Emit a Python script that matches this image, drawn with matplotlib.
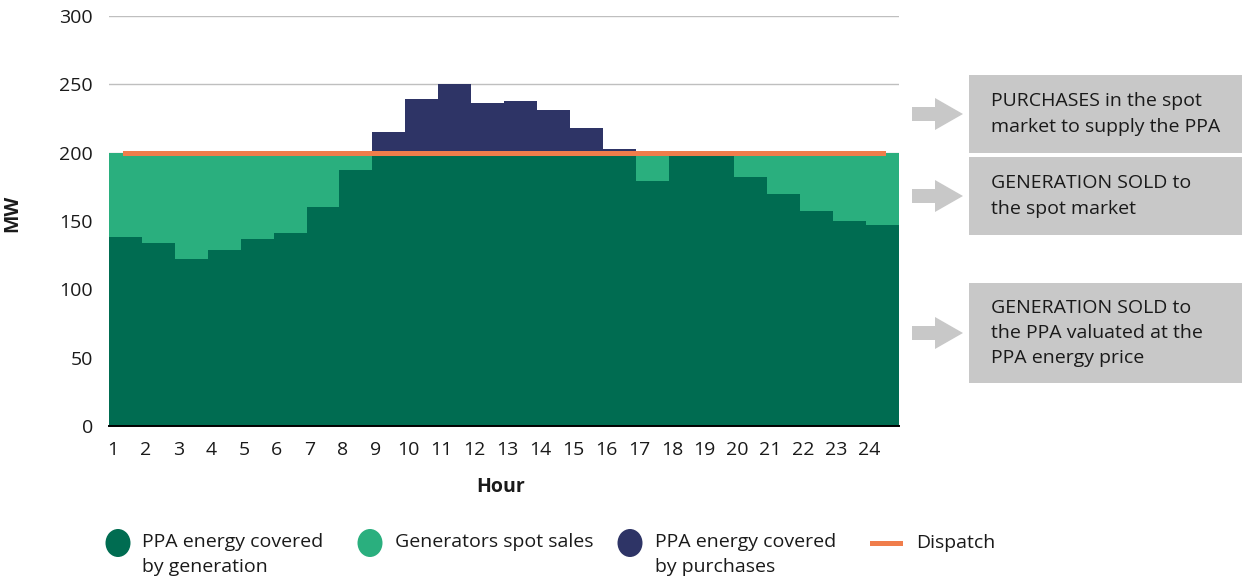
import matplotlib
matplotlib.use("Agg")
import matplotlib.pyplot as plt
from matplotlib.patches import Rectangle, Ellipse, Polygon
import numpy as np

# ---- data ----
hours = list(range(1, 25))
ppa_generation = [138, 134, 122, 129, 137, 141, 160, 187, 200, 200, 200, 200,
                  200, 200, 200, 200, 179, 200, 200, 182, 170, 157, 150, 147]
spot_sales = [62, 66, 78, 71, 63, 59, 40, 13, 0, 0, 0, 0,
              0, 0, 0, 0, 21, 0, 0, 18, 30, 43, 50, 53]
ppa_purchases = [0, 0, 0, 0, 0, 0, 0, 0, 15, 39, 50, 36,
                 38, 31, 18, 3, 0, 0, 0, 0, 0, 0, 0, 0]
dispatch = [200] * 24
y_ticks = [0, 50, 100, 150, 200, 250, 300]
legend_labels = ["PPA energy covered\nby generation", "Generators spot sales",
                 "PPA energy covered\nby purchases", "Dispatch"]
box_texts = ["PURCHASES in the spot\nmarket to supply the PPA",
             "GENERATION SOLD to\nthe spot market",
             "GENERATION SOLD to\nthe PPA valuated at the\nPPA energy price"]

C_DARK = "#006C51"
C_LIGHT = "#2AAF7E"
C_NAVY = "#2E3466"
C_ORANGE = "#F07D4B"
C_GRAY = "#C8C8C8"
C_TEXT = "#1A1A1A"

FONT = "Open Sans"
plt.rcParams["font.family"] = [FONT, "DejaVu Sans"]
FS = 14

W, H = 1244, 580
fig = plt.figure(figsize=(W / 100, H / 100), dpi=100)

x0, x1 = 109, 899
ytop, ybot = 16, 426
ax = fig.add_axes([x0 / W, 1 - ybot / H, (x1 - x0) / W, (ybot - ytop) / H])

gen = np.array(ppa_generation)
spot = np.array(spot_sales)
pur = np.array(ppa_purchases)
ax.bar(hours, gen, width=1.0, color=C_DARK, zorder=2, linewidth=0)
ax.bar(hours, spot, bottom=gen, width=1.0, color=C_LIGHT, zorder=2, linewidth=0)
ax.bar(hours, pur, bottom=gen + spot, width=1.0, color=C_NAVY, zorder=2, linewidth=0)
ax.plot(hours, dispatch, color=C_ORANGE, lw=3.6, solid_capstyle="projecting", zorder=3)

ax.set_xlim(0.5, 24.5)
ax.set_ylim(0, 300)
ax.set_yticks(y_ticks)
ax.set_yticklabels([str(v) for v in y_ticks], fontsize=FS, color=C_TEXT)
ax.set_xticks([h - 0.4 for h in hours])
ax.set_xticklabels([str(h) for h in hours], fontsize=FS, color=C_TEXT)
ax.tick_params(axis="both", length=0)
ax.tick_params(axis="y", pad=11.5)
ax.tick_params(axis="x", pad=11)
ax.grid(axis="y", color="#BFBFBF", lw=1, zorder=0)
ax.set_axisbelow(True)
for s in ["top", "right", "left"]:
    ax.spines[s].set_visible(False)
ax.spines["bottom"].set_color("black")
ax.spines["bottom"].set_linewidth(1.4)
ax.spines["bottom"].set_zorder(4)

# overlay in pixel coordinates
ov = fig.add_axes([0, 0, 1, 1], zorder=5)
ov.set_xlim(0, W)
ov.set_ylim(H, 0)
ov.axis("off")
ov.patch.set_alpha(0)

ov.text(12, 213, "MW", rotation=90, ha="center", va="center", fontsize=FS,
        fontweight="bold", color=C_TEXT)
ov.text(501, 487, "Hour", ha="center", va="center", fontsize=FS,
        fontweight="bold", color=C_TEXT)

# boxes and arrows
boxes = [(75, 153), (157, 235), (283, 383)]
arrow_y = [114, 196, 333]
for (yt, yb), ay, txt in zip(boxes, arrow_y, box_texts):
    ov.add_patch(Rectangle((969, yt), 1242 - 969, yb - yt, facecolor=C_GRAY,
                           edgecolor="none"))
    ov.add_patch(Polygon([(912, ay - 7), (935, ay - 7), (935, ay - 16), (963, ay),
                          (935, ay + 16), (935, ay + 7), (912, ay + 7)],
                         closed=True, facecolor=C_GRAY, edgecolor="none"))
    ov.text(991, (yt + yb) / 2, txt, ha="left", va="center", fontsize=FS,
            color=C_TEXT, linespacing=1.52)

# legend
leg_colors = [C_DARK, C_LIGHT, C_NAVY]
leg_cx = [118, 370, 630]
leg_tx = [142, 395, 655]
for c, cx, tx, lab in zip(leg_colors, leg_cx, leg_tx, legend_labels[:3]):
    ov.add_patch(Ellipse((cx, 543), 25, 28, facecolor=c, edgecolor="none"))
    ov.text(tx, 533, lab, ha="left", va="top", fontsize=FS, color=C_TEXT,
            linespacing=1.5)
ov.plot([872, 900], [543, 543], color=C_ORANGE, lw=3.6)
ov.text(916, 543, legend_labels[3], ha="left", va="center", fontsize=FS,
        color=C_TEXT)

fig.savefig("out.png", dpi=100)
